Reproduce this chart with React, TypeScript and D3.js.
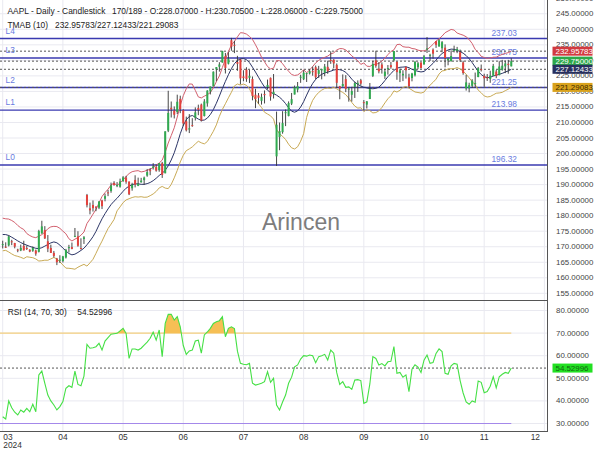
import React, { useEffect, useRef } from 'react';
import * as d3 from 'd3';

const symbolTitle = 'AAPL - Daily - Candlestick';
const barInfo = '170/189';

const opens = [
  170.57, 170.0, 170.41, 171.75, 171.19, 169.08, 168.79, 170.29, 169.59, 169.03,
  168.7, 168.8, 168.34, 174.26, 175.36, 171.75, 169.61, 168.03, 166.21, 165.52,
  165.35, 166.54, 169.53, 169.88, 173.37, 173.33, 169.58, 172.51, 186.65, 182.35,
  183.45, 182.85, 182.56, 184.9, 185.44, 187.51, 187.91, 190.47, 189.51, 189.33,
  191.09, 192.27, 190.98, 188.82, 191.51, 189.61, 190.76, 191.44, 192.9, 194.64,
  195.4, 195.69, 194.65, 196.9, 193.65, 207.37, 214.74, 213.85, 213.37, 217.59,
  213.93, 210.39, 207.72, 209.15, 211.5, 214.69, 215.77, 212.09, 216.15, 220.0,
  221.65, 227.09, 227.93, 229.3, 231.39, 228.92, 236.48, 235.0, 229.45, 230.28,
  224.82, 227.01, 224.37, 224.0, 218.93, 218.7, 216.96, 219.19, 221.44, 224.37,
  219.15, 199.09, 205.3, 206.9, 213.11, 212.1, 216.07, 219.01, 220.57, 224.6,
  223.92, 225.72, 225.77, 226.52, 227.79, 225.66, 226.76, 226.0, 227.92, 230.1,
  230.19, 228.55, 221.66, 221.63, 223.95, 220.82, 218.92, 221.46, 222.5, 223.58,
  216.54, 215.75, 217.55, 224.99, 229.97, 227.34, 228.65, 224.93, 227.3, 228.46,
  230.04, 229.52, 225.89, 225.14, 227.9, 224.5, 224.3, 225.23, 227.78, 229.3,
  228.7, 233.61, 231.6, 233.43, 236.18, 234.45, 233.89, 234.08, 229.98, 229.74,
  233.32, 233.1, 232.61, 229.34, 220.97, 220.99, 221.8, 222.61, 224.63, 227.17,
  225.0, 224.55, 224.01, 225.02, 226.4, 225.25, 226.98, 228.06, 228.88, 228.07,
];
const highs = [
  171.94, 171.42, 173.6, 172.23, 171.25, 169.34, 170.68, 171.92, 170.39, 169.2,
  170.08, 169.09, 175.46, 178.36, 176.63, 173.76, 170.65, 168.64, 166.4, 167.26,
  167.05, 169.3, 170.61, 171.34, 176.03, 174.99, 172.71, 173.42, 187.0, 184.2,
  184.9, 183.07, 184.66, 185.09, 187.1, 188.3, 190.65, 191.1, 190.81, 191.92,
  192.73, 192.82, 191.0, 190.58, 193.0, 192.25, 192.18, 192.57, 194.99, 195.32,
  196.9, 196.5, 196.94, 197.3, 207.16, 220.2, 216.75, 215.17, 218.95, 218.63,
  214.24, 211.89, 212.7, 211.38, 214.86, 215.74, 216.07, 217.51, 220.38, 221.55,
  226.45, 227.85, 229.4, 233.08, 232.39, 232.64, 237.23, 236.27, 231.46, 230.44,
  226.8, 227.78, 226.94, 224.8, 220.85, 219.49, 219.3, 220.33, 223.82, 224.48,
  225.6, 213.5, 209.99, 213.64, 214.2, 216.78, 219.51, 221.89, 223.03, 225.35,
  226.83, 225.99, 227.17, 227.98, 228.34, 228.22, 227.28, 228.85, 229.86, 232.92,
  230.4, 229.0, 221.78, 225.48, 225.24, 221.27, 221.48, 223.09, 223.55, 224.04,
  217.22, 216.9, 222.71, 229.82, 233.09, 229.45, 229.35, 227.29, 228.5, 229.52,
  233.0, 229.65, 227.37, 226.81, 228.0, 225.69, 225.98, 229.75, 229.5, 229.41,
  231.73, 237.49, 232.12, 233.85, 236.18, 236.85, 236.22, 235.14, 230.82, 233.22,
  234.73, 234.33, 233.47, 229.83, 225.35, 222.79, 223.95, 226.07, 227.88, 228.66,
  225.7, 225.59, 226.65, 228.87, 226.92, 229.74, 230.16, 229.93, 230.16, 230.705,
];
const lows = [
  169.45, 169.58, 170.11, 170.51, 169.48, 168.23, 168.58, 168.82, 168.95, 168.24,
  168.35, 167.11, 168.16, 174.21, 172.5, 168.27, 168.0, 166.55, 164.08, 164.77,
  164.92, 166.21, 168.15, 169.18, 173.1, 170.0, 169.11, 170.89, 182.66, 180.42,
  181.32, 181.45, 182.11, 182.13, 184.62, 186.29, 187.37, 189.66, 189.18, 189.01,
  190.92, 190.27, 186.63, 188.04, 189.1, 189.51, 190.63, 189.91, 192.52, 193.03,
  194.87, 194.17, 194.14, 192.15, 193.63, 206.9, 211.6, 211.3, 212.72, 213.0,
  208.85, 207.11, 206.59, 208.61, 210.64, 212.35, 210.3, 211.92, 215.1, 219.03,
  221.65, 223.25, 226.37, 229.25, 225.77, 228.68, 233.09, 232.33, 226.64, 222.27,
  223.28, 223.09, 222.68, 217.13, 214.62, 216.01, 215.75, 216.12, 220.63, 217.02,
  217.71, 196.0, 201.07, 206.39, 208.83, 211.97, 215.6, 219.01, 219.7, 222.76,
  223.65, 223.04, 225.45, 225.05, 223.9, 224.33, 223.89, 224.89, 225.68, 228.88,
  227.48, 221.17, 217.48, 221.52, 219.77, 216.71, 216.73, 217.89, 219.82, 221.91,
  213.92, 214.5, 217.54, 224.63, 227.62, 225.81, 225.73, 224.02, 225.41, 227.3,
  229.65, 223.74, 223.02, 223.32, 224.13, 221.33, 223.25, 224.83, 227.17, 227.34,
  228.6, 232.37, 229.84, 230.52, 234.01, 234.45, 232.6, 227.76, 228.41, 229.57,
  232.55, 232.32, 229.55, 225.37, 220.27, 219.71, 221.14, 221.19, 224.57, 226.41,
  221.5, 223.36, 222.76, 225.0, 224.27, 225.17, 226.66, 225.89, 225.71, 228.06,
];
const closes = [
  170.85, 169.71, 173.31, 171.48, 170.03, 168.84, 169.65, 168.82, 169.58, 168.45,
  169.67, 167.78, 175.04, 176.55, 172.69, 169.38, 168.0, 167.04, 165.0, 165.84,
  166.9, 169.02, 169.89, 169.3, 173.5, 170.33, 169.3, 173.03, 183.38, 181.71,
  182.4, 182.74, 184.57, 183.05, 186.28, 187.43, 189.72, 189.84, 189.87, 191.04,
  192.35, 190.9, 186.88, 189.98, 189.99, 190.29, 191.29, 192.25, 194.03, 194.35,
  195.87, 194.48, 196.89, 193.12, 207.15, 213.07, 214.24, 212.49, 216.67, 214.29,
  209.68, 207.49, 208.14, 209.07, 213.25, 214.1, 210.62, 216.75, 220.27, 221.55,
  226.34, 227.82, 228.68, 232.98, 227.57, 230.54, 234.4, 234.82, 228.88, 224.18,
  224.31, 223.96, 225.01, 218.54, 217.49, 217.96, 218.24, 218.8, 222.08, 218.36,
  219.86, 209.27, 207.23, 209.82, 213.31, 216.24, 217.53, 221.27, 221.72, 224.72,
  226.05, 225.89, 226.51, 226.4, 224.53, 226.84, 227.18, 228.03, 226.49, 229.79,
  229.0, 222.77, 220.85, 222.38, 220.82, 220.91, 220.11, 222.66, 222.77, 222.5,
  216.32, 216.79, 220.69, 228.87, 228.2, 226.47, 227.37, 226.37, 227.52, 227.79,
  233.0, 226.21, 226.78, 225.67, 226.8, 221.69, 225.77, 229.54, 229.04, 227.55,
  231.3, 233.85, 231.78, 232.15, 235.0, 236.48, 235.86, 230.76, 230.57, 231.41,
  233.4, 233.67, 230.1, 225.91, 222.91, 222.01, 223.45, 222.72, 227.48, 226.96,
  224.23, 224.23, 225.12, 228.22, 225.0, 228.02, 228.28, 229.0, 228.52, 229.75,
];

// TMAB (10): middle line and half band width, per bar
const tmabMid = [
  173.94, 173.91, 173.61, 173.06, 172.49, 171.87, 171.34, 170.87, 170.51, 170.1,
  169.8, 169.49, 169.4, 169.69, 170.19, 170.72, 171.24, 171.55, 171.27, 170.53,
  169.56, 168.64, 167.81, 167.39, 167.6, 168.16, 168.81, 169.53, 170.63, 171.86,
  173.23, 174.94, 177.02, 178.99, 180.64, 182.18, 183.56, 184.66, 185.6, 186.72,
  187.84, 188.84, 189.51, 190.0, 190.23, 190.24, 190.09, 190.09, 190.31, 190.68,
  191.27, 192.04, 192.94, 193.64, 194.63, 196.04, 197.93, 200.23, 203.17, 206.37,
  209.03, 210.89, 211.95, 212.24, 211.71, 211.09, 210.68, 210.79, 211.41, 212.57,
  214.16, 216.19, 218.5, 220.95, 223.23, 225.38, 227.33, 228.92, 229.97, 230.48,
  230.59, 230.21, 229.28, 227.8, 226.24, 224.58, 222.93, 221.43, 220.37, 219.69,
  219.29, 218.8, 218.12, 217.24, 216.07, 214.75, 213.64, 213.3, 213.74, 214.97,
  216.7, 218.83, 220.85, 222.57, 223.88, 224.83, 225.5, 225.95, 226.22, 226.51,
  226.88, 227.08, 227.0, 226.72, 226.15, 225.13, 223.95, 222.97, 222.25, 221.72,
  221.34, 221.12, 220.92, 220.86, 220.98, 221.38, 222.29, 223.5, 224.73, 225.74,
  226.78, 227.44, 227.77, 227.84, 227.92, 227.64, 227.13, 226.75, 226.47, 226.27,
  226.43, 227.24, 228.13, 229.04, 230.08, 231.27, 232.2, 232.83, 233.34, 233.62,
  233.55, 233.24, 232.83, 232.31, 231.55, 230.54, 229.28, 227.86, 226.5, 225.44,
  224.73, 224.43, 224.55, 224.95, 225.22, 225.52, 225.81, 226.24, 226.6, 227.12433,
];
const tmabWidth = [
  5.25, 5.08, 5.3, 5.38, 5.33, 4.97, 4.75, 4.68, 3.74, 3.49,
  3.33, 3.43, 4.0, 4.2, 4.52, 5.08, 5.16, 5.01, 5.22, 5.39,
  5.45, 5.53, 4.75, 4.45, 4.84, 4.76, 4.91, 5.21, 6.86, 7.05,
  7.27, 7.05, 7.07, 7.19, 6.78, 6.34, 6.29, 5.89, 4.04, 3.9,
  3.64, 3.78, 4.05, 4.16, 4.14, 4.25, 3.99, 4.17, 4.34, 4.25,
  4.28, 4.25, 4.01, 4.23, 5.75, 7.33, 7.87, 8.06, 8.58, 9.08,
  9.59, 9.96, 10.46, 10.1, 8.63, 7.14, 7.23, 7.68, 7.54, 7.08,
  6.99, 6.97, 6.51, 6.75, 7.2, 7.45, 7.59, 7.15, 7.58, 8.43,
  8.22, 8.24, 8.42, 8.94, 8.79, 8.56, 8.09, 8.13, 7.65, 7.55,
  8.2, 11.08, 11.78, 11.68, 11.55, 11.75, 11.81, 11.83, 11.57, 11.0,
  10.29, 7.17, 6.09, 5.44, 5.3, 5.16, 5.08, 5.02, 5.15, 5.57,
  5.53, 6.25, 6.79, 7.04, 7.2, 7.3, 7.5, 7.69, 7.62, 6.98,
  7.83, 7.01, 7.11, 7.78, 7.78, 7.64, 7.47, 7.2, 7.1, 7.11,
  6.61, 7.64, 7.4, 6.56, 6.32, 6.59, 6.69, 6.93, 6.82, 6.8,
  6.64, 6.18, 6.13, 6.11, 6.13, 5.67, 5.61, 6.08, 6.09, 6.33,
  6.2, 5.57, 5.59, 5.8, 6.04, 6.16, 6.15, 5.67, 6.08, 5.87,
  6.19, 6.22, 6.19, 6.06, 5.81, 6.01, 6.11, 5.99, 5.88, 5.8335,
];

const rsiValues = [
  33.0, 32.0, 40.0, 37.0, 35.0, 33.8, 36.0, 35.0, 36.7, 35.2,
  38.5, 35.2, 51.5, 53.2, 47.8, 42.6, 40.0, 38.2, 36.0, 37.5,
  39.7, 45.6, 46.7, 46.0, 53.2, 47.3, 46.7, 51.0, 65.0, 63.3,
  63.5, 64.0, 65.5, 62.5, 66.5, 68.0, 69.5, 69.7, 69.9, 71.0,
  72.1, 69.9, 58.8, 63.0, 63.0, 62.5, 63.3, 64.7, 66.0, 67.7,
  70.4, 66.9, 71.4, 59.6, 74.3, 78.3, 78.3, 75.8, 77.3, 72.8,
  64.5, 60.6, 62.1, 62.5, 66.5, 66.9, 61.1, 69.2, 70.5, 72.1,
  74.3, 75.0, 75.5, 77.3, 68.4, 72.1, 72.8, 72.0, 62.0, 56.6,
  56.2, 56.0, 56.6, 47.8, 47.0, 47.4, 47.8, 48.5, 52.9, 48.2,
  50.0, 38.2, 36.0, 39.5, 42.6, 47.8, 50.5, 55.1, 55.9, 58.5,
  60.0, 59.8, 60.3, 60.0, 56.9, 59.6, 60.0, 60.6, 58.1, 62.5,
  61.1, 52.5, 47.3, 48.5, 46.0, 46.2, 45.1, 49.2, 49.4, 49.0,
  38.9, 39.6, 47.5, 59.6, 58.8, 55.9, 56.5, 55.5, 57.3, 57.5,
  64.0, 52.2, 52.6, 50.5, 51.5, 44.1, 54.0, 56.0, 55.0, 52.6,
  58.0, 60.3, 56.6, 57.0, 61.0, 63.0, 61.8, 52.2, 51.8, 55.5,
  56.6, 56.2, 49.0, 43.5, 39.6, 38.5, 40.0, 39.4, 48.8, 48.2,
  43.6, 44.1, 46.5, 50.7, 45.8, 50.7, 51.8, 52.6, 52.2, 54.52996,
];

const monthTickIdx = [0, 20, 40, 60, 80, 100, 120, 140, 160, 180];
const monthLabels = ['03', '04', '05', '06', '07', '08', '09', '10', '11', '12'];
const yearLabel = '2024';

const levelNames = ['L0', 'L1', 'L2', 'L3', 'L4'];
const levelValues = [196.32, 213.98, 221.25, 230.75, 237.03];

const priceTicks = [155, 160, 165, 170, 175, 180, 185, 190, 195, 200, 205, 210, 215, 220, 225, 230, 235, 240, 245, 250];
const rsiTicks = [30, 40, 50, 60, 70, 80];
const rsiOverbought = 70;
const rsiOversold = 30;

const FONT = '"Liberation Sans", Arial, Helvetica, sans-serif';
const FS = 8.4;
const FS_AXIS = 7.9;

export default function App() {
  const ref = useRef<SVGSVGElement>(null);

  useEffect(() => {
    const svg = d3.select(ref.current as SVGSVGElement);
    svg.selectAll('*').remove();
    const n = closes.length;
    const idx = d3.range(n);
    const last = n - 1;

    const plotRight = 548;
    const x = d3.scaleLinear().domain([-0.9, 181.2]).range([0, plotRight]);
    const y = d3.scaleLinear().domain([152.85, 249.43]).range([300, 0]);
    const yr = d3.scaleLinear().domain([26.24, 84.65]).range([432, 300]);

    const upper = idx.map((i) => tmabMid[i] + tmabWidth[i]);
    const lower = idx.map((i) => tmabMid[i] - tmabWidth[i]);

    svg.append('rect').attr('width', 600).attr('height', 450).attr('fill', '#ffffff');

    const defs = svg.append('defs');
    defs.append('clipPath').attr('id', 'clipMain').append('rect')
      .attr('x', 0).attr('y', 0).attr('width', plotRight).attr('height', 300);
    defs.append('clipPath').attr('id', 'clipRsi').append('rect')
      .attr('x', 0).attr('y', 300).attr('width', plotRight).attr('height', 132);
    defs.append('clipPath').attr('id', 'clipOB').append('rect')
      .attr('x', 0).attr('y', 300).attr('width', plotRight).attr('height', yr(rsiOverbought) - 300);
    defs.append('clipPath').attr('id', 'clipAxisMain').append('rect')
      .attr('x', plotRight).attr('y', 0).attr('width', 600 - plotRight).attr('height', 300);

    const gridColor = '#e9e9f0';

    // ---------- MAIN PANEL ----------
    const main = svg.append('g').attr('clip-path', 'url(#clipMain)');

    main.selectAll('line.hgrid').data(priceTicks).join('line')
      .attr('x1', 0).attr('x2', plotRight)
      .attr('y1', (d) => y(d)).attr('y2', (d) => y(d))
      .attr('stroke', gridColor).attr('stroke-width', 1);

    main.selectAll('line.vgrid').data(monthTickIdx).join('line')
      .attr('x1', (d) => x(d)).attr('x2', (d) => x(d))
      .attr('y1', 0).attr('y2', 300)
      .attr('stroke', gridColor).attr('stroke-width', 1);

    // watermark
    main.append('text')
      .attr('x', 301).attr('y', 230)
      .attr('text-anchor', 'middle')
      .attr('font-family', FONT).attr('font-size', 23)
      .attr('fill', '#7d7d7d')
      .text('Arincen');

    // levels
    levelValues.forEach((v, k) => {
      main.append('line')
        .attr('x1', 0).attr('x2', plotRight)
        .attr('y1', y(v)).attr('y2', y(v))
        .attr('stroke', '#3a3ab0').attr('stroke-width', 1.4);
      main.append('text')
        .attr('x', 5.5).attr('y', y(v) - 5)
        .attr('font-family', FONT).attr('font-size', FS)
        .attr('fill', '#6a7ce0')
        .text(levelNames[k]);
      main.append('text')
        .attr('x', 517).attr('y', y(v) - 3)
        .attr('text-anchor', 'end')
        .attr('font-family', FONT).attr('font-size', FS)
        .attr('fill', '#6a7ce0')
        .text(v.toFixed(2));
    });

    // current value dotted lines
    const currentVals = [upper[last], closes[last], tmabMid[last], lower[last]];
    main.selectAll('line.cur').data(currentVals).join('line')
      .attr('x1', 0).attr('x2', plotRight)
      .attr('y1', (d) => y(d)).attr('y2', (d) => y(d))
      .attr('stroke', '#555').attr('stroke-width', 1)
      .attr('stroke-dasharray', '2,2');

    // TMAB lines
    const lineGen = (arr: number[]) =>
      d3.line<number>().x((i) => x(i)).y((i) => y(arr[i]))(idx) as string;
    main.append('path').attr('d', lineGen(upper)).attr('fill', 'none')
      .attr('stroke', '#d2606e').attr('stroke-width', 1);
    main.append('path').attr('d', lineGen(lower)).attr('fill', 'none')
      .attr('stroke', '#c9aa55').attr('stroke-width', 1);
    main.append('path').attr('d', lineGen(tmabMid)).attr('fill', 'none')
      .attr('stroke', '#2c3566').attr('stroke-width', 1);

    // candles
    const upColor = '#2faa4f';
    const downColor = '#e3413c';
    const bodyW = 2;
    const cg = main.append('g');
    cg.selectAll('line.wick').data(idx).join('line')
      .attr('x1', (i) => x(i)).attr('x2', (i) => x(i))
      .attr('y1', (i) => y(highs[i])).attr('y2', (i) => y(lows[i]))
      .attr('stroke', '#333').attr('stroke-width', 0.9);
    cg.selectAll('rect.body').data(idx).join('rect')
      .attr('x', (i) => x(i) - bodyW / 2)
      .attr('width', bodyW)
      .attr('y', (i) => y(Math.max(opens[i], closes[i])))
      .attr('height', (i) => Math.max(1, Math.abs(y(opens[i]) - y(closes[i]))))
      .attr('fill', (i) => (closes[i] >= opens[i] ? upColor : downColor));

    // header
    const hdr = svg.append('g').attr('font-family', FONT).attr('font-size', FS).attr('fill', '#222');
    hdr.append('text').attr('x', 7.5).attr('y', 13.5).text(symbolTitle);
    hdr.append('text').attr('x', 112).attr('y', 13.5)
      .text(`${barInfo} - O:${opens[last].toFixed(5)} - H:${highs[last].toFixed(5)} - L:${lows[last].toFixed(5)} - C:${closes[last].toFixed(5)}`);
    hdr.append('text').attr('x', 7.5).attr('y', 28.3).text('TMAB (10)');
    hdr.append('text').attr('x', 55).attr('y', 28.3)
      .text(`${upper[last].toFixed(5)}/${tmabMid[last].toFixed(5)}/${lower[last].toFixed(5)}`);

    // ---------- RSI PANEL ----------
    const rsiG = svg.append('g').attr('clip-path', 'url(#clipRsi)');
    rsiG.selectAll('line.rgrid').data(rsiTicks).join('line')
      .attr('x1', 0).attr('x2', plotRight)
      .attr('y1', (d) => yr(d)).attr('y2', (d) => yr(d))
      .attr('stroke', gridColor).attr('stroke-width', 1);
    rsiG.selectAll('line.rvgrid').data(monthTickIdx).join('line')
      .attr('x1', (d) => x(d)).attr('x2', (d) => x(d))
      .attr('y1', 300).attr('y2', 432)
      .attr('stroke', gridColor).attr('stroke-width', 1);

    rsiG.append('line')
      .attr('x1', 0).attr('x2', x(last))
      .attr('y1', yr(rsiOverbought)).attr('y2', yr(rsiOverbought))
      .attr('stroke', '#f4cf7e').attr('stroke-width', 1.2);
    rsiG.append('line')
      .attr('x1', 0).attr('x2', x(last))
      .attr('y1', yr(rsiOversold)).attr('y2', yr(rsiOversold))
      .attr('stroke', '#a488ea').attr('stroke-width', 1.2);

    const area = d3.area<number>()
      .x((i) => x(i))
      .y0(() => yr(rsiOverbought))
      .y1((i) => yr(rsiValues[i]));
    rsiG.append('path').attr('d', area(idx) as string)
      .attr('clip-path', 'url(#clipOB)')
      .attr('fill', '#f6bf55');

    rsiG.append('line')
      .attr('x1', 0).attr('x2', plotRight)
      .attr('y1', yr(rsiValues[last])).attr('y2', yr(rsiValues[last]))
      .attr('stroke', '#555').attr('stroke-width', 1)
      .attr('stroke-dasharray', '2,2');

    rsiG.append('path')
      .attr('d', d3.line<number>().x((i) => x(i)).y((i) => yr(rsiValues[i]))(idx) as string)
      .attr('fill', 'none').attr('stroke', '#45e045').attr('stroke-width', 1.1);

    const rh = svg.append('g').attr('font-family', FONT).attr('font-size', FS).attr('fill', '#222');
    rh.append('text').attr('x', 7.7).attr('y', 314.5).text('RSI (14, 70, 30)');
    rh.append('text').attr('x', 77.3).attr('y', 314.5).text(rsiValues[last].toFixed(5));

    // ---------- FRAMES ----------
    svg.append('line').attr('x1', 0).attr('x2', plotRight).attr('y1', 300.5).attr('y2', 300.5)
      .attr('stroke', '#555').attr('stroke-width', 1);
    svg.append('line').attr('x1', 0).attr('x2', plotRight).attr('y1', 431.5).attr('y2', 431.5)
      .attr('stroke', '#555').attr('stroke-width', 1);
    svg.append('line').attr('x1', plotRight - 0.5).attr('x2', plotRight - 0.5).attr('y1', 0).attr('y2', 432)
      .attr('stroke', '#555').attr('stroke-width', 1);

    // ---------- RIGHT AXES ----------
    const ax = svg.append('g').attr('font-family', FONT).attr('font-size', FS_AXIS).attr('fill', '#444');
    ax.append('g').attr('clip-path', 'url(#clipAxisMain)')
      .selectAll('text').data(priceTicks).join('text')
      .attr('x', 556).attr('y', (d) => y(d))
      .attr('dominant-baseline', 'central')
      .text((d) => d.toFixed(5));
    ax.selectAll('text.r').data(rsiTicks).join('text')
      .attr('x', 556).attr('y', (d) => yr(d))
      .attr('dominant-baseline', 'central')
      .text((d) => d.toFixed(5));

    // badges
    const badges = [
      { v: upper[last], bg: '#d23a40', fg: '#ffffff', scale: y },
      { v: closes[last], bg: '#2ea84a', fg: '#ffffff', scale: y },
      { v: tmabMid[last], bg: '#28305e', fg: '#ffffff', scale: y },
      { v: lower[last], bg: '#d9a21c', fg: '#3a2a00', scale: y },
      { v: rsiValues[last], bg: '#22e022', fg: '#116611', scale: yr },
    ];
    badges.forEach((b) => {
      const cy = b.scale(b.v);
      svg.append('rect').attr('x', 552.5).attr('y', cy - 4.5).attr('width', 40).attr('height', 9)
        .attr('fill', b.bg);
      svg.append('text').attr('x', 555.5).attr('y', cy)
        .attr('dominant-baseline', 'central')
        .attr('font-family', FONT).attr('font-size', FS_AXIS).attr('fill', b.fg)
        .text(b.v.toFixed(5));
    });

    // ---------- X AXIS ----------
    const xa = svg.append('g').attr('font-family', FONT).attr('font-size', FS).attr('fill', '#333');
    monthTickIdx.forEach((t, k) => {
      const px = x(t);
      let anchor = 'middle';
      let tx = px;
      if (k === 0) { anchor = 'start'; tx = 3.3; }
      if (k === monthTickIdx.length - 1) { anchor = 'end'; tx = Math.min(px, 540); }
      xa.append('text').attr('x', tx).attr('y', 440).attr('text-anchor', anchor).text(monthLabels[k]);
    });
    xa.append('text').attr('x', 3.3).attr('y', 448).text(yearLabel);
  }, []);

  return (
    <svg
      ref={ref}
      width={600}
      height={450}
      style={{ position: 'fixed', left: 0, top: 0, display: 'block' }}
    />
  );
}
